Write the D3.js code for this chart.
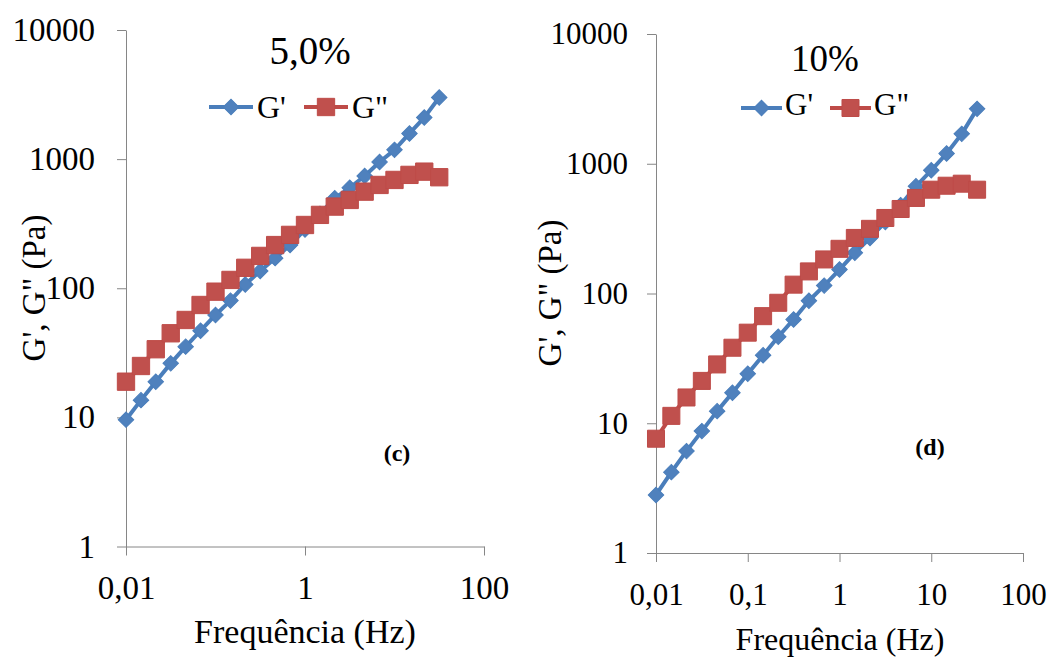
<!DOCTYPE html>
<html>
<head>
<meta charset="utf-8">
<script src="https://cdn.jsdelivr.net/npm/d3@7"></script>
<style>
  html, body { margin: 0; padding: 0; background: #ffffff; }
  svg { display: block; }
  svg text { font-family: "Liberation Serif", Tinos, "Times New Roman", Times, "Nimbus Roman", "DejaVu Serif", serif !important; fill: #000; }
</style>
</head>
<body>
<svg id="chart" width="1050" height="659"></svg>
<script>
// ---- data ----
const frequency = [0.01, 0.0147, 0.0215, 0.0316, 0.0464, 0.0681, 0.1, 0.147, 0.215, 0.316, 0.464, 0.681,
                   1, 1.47, 2.15, 3.16, 4.64, 6.81, 10, 14.7, 21.5, 31.6];

const gPrime5 = [9.6, 13.6, 18.9, 26.2, 35.3, 46.9, 62.1, 80.2, 107, 136, 171, 216,
                 285, 377, 498, 600, 740, 950, 1180, 1580, 2100, 3000];
const gDouble5 = [18.9, 25.0, 33.7, 44.8, 56.8, 74.2, 94.1, 116, 144, 178, 216, 259,
                  309, 370, 429, 483, 560, 631, 690, 755, 800, 724];

const gPrime10 = [2.8, 4.2, 6.1, 8.7, 12.4, 17.2, 24.1, 33.4, 46.4, 63.1, 88, 115,
                  153, 206, 268, 355, 480, 670, 890, 1200, 1700, 2650];
const gDouble10 = [7.6, 11.4, 15.8, 21.2, 28.4, 38.2, 49.9, 66.9, 84.8, 117, 148, 183,
                   221, 268, 315, 382, 448, 545, 631, 677, 702, 631];

const yTicks = [1, 10, 100, 1000, 10000];
const yTickLabels = ["1", "10", "100", "1000", "10000"];
const xTicksLeft = [0.01, 1, 100];
const xTickLabelsLeft = ["0,01", "1", "100"];
const xTicksRight = [0.01, 0.1, 1, 10, 100];
const xTickLabelsRight = ["0,01", "0,1", "1", "10", "100"];

const seriesNames = ["G'", "G\""];
const titles = ["5,0%", "10%"];
const panelTags = ["(c)", "(d)"];
const xTitle = "Frequência (Hz)";
const yTitle = "G', G\" (Pa)";

// ---- styles ----
const blueLine = "#4A7EBB", blueFill = "#4F81BD";
const redLine = "#BE4B48", redFill = "#C0504D";
const axisColor = "#868686";
const serif = "'Liberation Serif', Tinos, 'Times New Roman', Times, 'Nimbus Roman', 'DejaVu Serif', serif";
const lineWidth = 4;

const svg = d3.select("#chart");

const panels = [
  {
    x0: 126, x1: 484, y0: 546.5, y1: 30,
    xTicks: xTicksLeft, xLabels: xTickLabelsLeft,
    gp: gPrime5, gd: gDouble5,
    tickFont: 33, yPad: 22,
    title: titles[0], titleX: 310, titleY: 64, titleFont: 39,
    legY: 107, legTextY: 118, legFont: 32,
    legBlue: [209, 253], legRed: [304, 348], legBlueText: 257, legRedText: 352,
    tag: panelTags[0], tagX: 397, tagY: 461,
    xTitleX: 305, xTitleY: 643, xTitleFont: 34,
    yTitleX: 33, yTitleY: 288, yTitleFont: 33,
    diamond: 120, square: 300
  },
  {
    x0: 656, x1: 1023, y0: 553, y1: 34,
    xTicks: xTicksRight, xLabels: xTickLabelsRight,
    gp: gPrime10, gd: gDouble10,
    tickFont: 31, yPad: 19,
    title: titles[1], titleX: 825, titleY: 71, titleFont: 37,
    legY: 108, legTextY: 115, legFont: 31,
    legBlue: [741, 782], legRed: [830, 871], legBlueText: 785, legRedText: 874,
    tag: panelTags[1], tagX: 930, tagY: 455,
    xTitleX: 840, xTitleY: 650, xTitleFont: 32,
    yTitleX: 549, yTitleY: 293, yTitleFont: 33,
    diamond: 120, square: 290
  }
];

const diamondPath = (size) => d3.symbol(d3.symbolSquare, size)();

panels.forEach(p => {
  const x = d3.scaleLog().domain([0.01, 100]).range([p.x0, p.x1]);
  const y = d3.scaleLog().domain([1, 10000]).range([p.y0, p.y1]);
  const g = svg.append("g");

  const yAxis = d3.axisLeft(y).tickValues(yTicks).tickSize(9).tickSizeOuter(0)
    .tickPadding(p.yPad)
    .tickFormat((d, i) => yTickLabels[i]);
  const ya = g.append("g").attr("transform", `translate(${p.x0},0)`).call(yAxis);
  const xAxis = d3.axisBottom(x).tickValues(p.xTicks).tickSize(9).tickSizeOuter(0)
    .tickFormat((d, i) => p.xLabels[i]);
  const xa = g.append("g").attr("transform", `translate(0,${p.y0})`).call(xAxis);

  [ya, xa].forEach(a => {
    a.attr("font-family", serif);
    a.select(".domain").attr("stroke", axisColor).attr("stroke-width", 1);
    a.selectAll(".tick line").attr("stroke", axisColor).attr("stroke-width", 1);
    a.selectAll(".tick text").attr("font-family", serif)
      .attr("font-size", p.tickFont).attr("fill", "#000");
  });
  xa.selectAll(".tick text").attr("y", 52).attr("dy", 0);

  const lineGen = d3.line().x((d, i) => x(frequency[i])).y(d => y(d));
  const drawSeries = (vals, stroke, fill, kind) => {
    g.append("path").datum(vals).attr("d", lineGen)
      .attr("fill", "none").attr("stroke", stroke).attr("stroke-width", lineWidth)
      .attr("stroke-linejoin", "round");
    g.append("g").selectAll("path").data(vals).join("path")
      .attr("d", kind === "diamond" ? diamondPath(p.diamond) : d3.symbol(d3.symbolSquare, p.square)())
      .attr("transform", (d, i) => `translate(${x(frequency[i])},${y(d)})` + (kind === "diamond" ? " rotate(45)" : ""))
      .attr("fill", fill).attr("stroke", stroke).attr("stroke-width", 1);
  };
  drawSeries(p.gp, blueLine, blueFill, "diamond");
  drawSeries(p.gd, redLine, redFill, "square");

  const txt = (sel) => sel.attr("font-family", serif);

  g.append("text").call(txt).attr("x", p.titleX).attr("y", p.titleY).attr("text-anchor", "middle")
    .attr("font-size", p.titleFont).text(p.title);

  const lg = g.append("g");
  lg.append("line").attr("x1", p.legBlue[0]).attr("x2", p.legBlue[1]).attr("y1", p.legY).attr("y2", p.legY)
    .attr("stroke", blueLine).attr("stroke-width", lineWidth);
  lg.append("path").attr("d", diamondPath(p.diamond))
    .attr("transform", `translate(${(p.legBlue[0] + p.legBlue[1]) / 2},${p.legY}) rotate(45)`)
    .attr("fill", blueFill).attr("stroke", blueLine);
  lg.append("text").call(txt).attr("x", p.legBlueText).attr("y", p.legTextY).attr("font-size", p.legFont).text(seriesNames[0]);
  lg.append("line").attr("x1", p.legRed[0]).attr("x2", p.legRed[1]).attr("y1", p.legY).attr("y2", p.legY)
    .attr("stroke", redLine).attr("stroke-width", lineWidth);
  lg.append("path").attr("d", d3.symbol(d3.symbolSquare, p.square)())
    .attr("transform", `translate(${(p.legRed[0] + p.legRed[1]) / 2},${p.legY})`)
    .attr("fill", redFill).attr("stroke", redLine);
  lg.append("text").call(txt).attr("x", p.legRedText).attr("y", p.legTextY).attr("font-size", p.legFont).text(seriesNames[1]);

  g.append("text").call(txt).attr("x", p.tagX).attr("y", p.tagY).attr("text-anchor", "middle")
    .attr("font-size", 24).attr("font-weight", "bold").text(p.tag);

  g.append("text").call(txt).attr("x", p.xTitleX).attr("y", p.xTitleY).attr("text-anchor", "middle")
    .attr("font-size", p.xTitleFont).text(xTitle);
  g.append("text").call(txt).attr("transform", `translate(${p.yTitleX},${p.yTitleY}) rotate(-90)`)
    .attr("text-anchor", "middle").attr("dy", "0.35em")
    .attr("font-size", p.yTitleFont).text(yTitle);
});
</script>
</body>
</html>
